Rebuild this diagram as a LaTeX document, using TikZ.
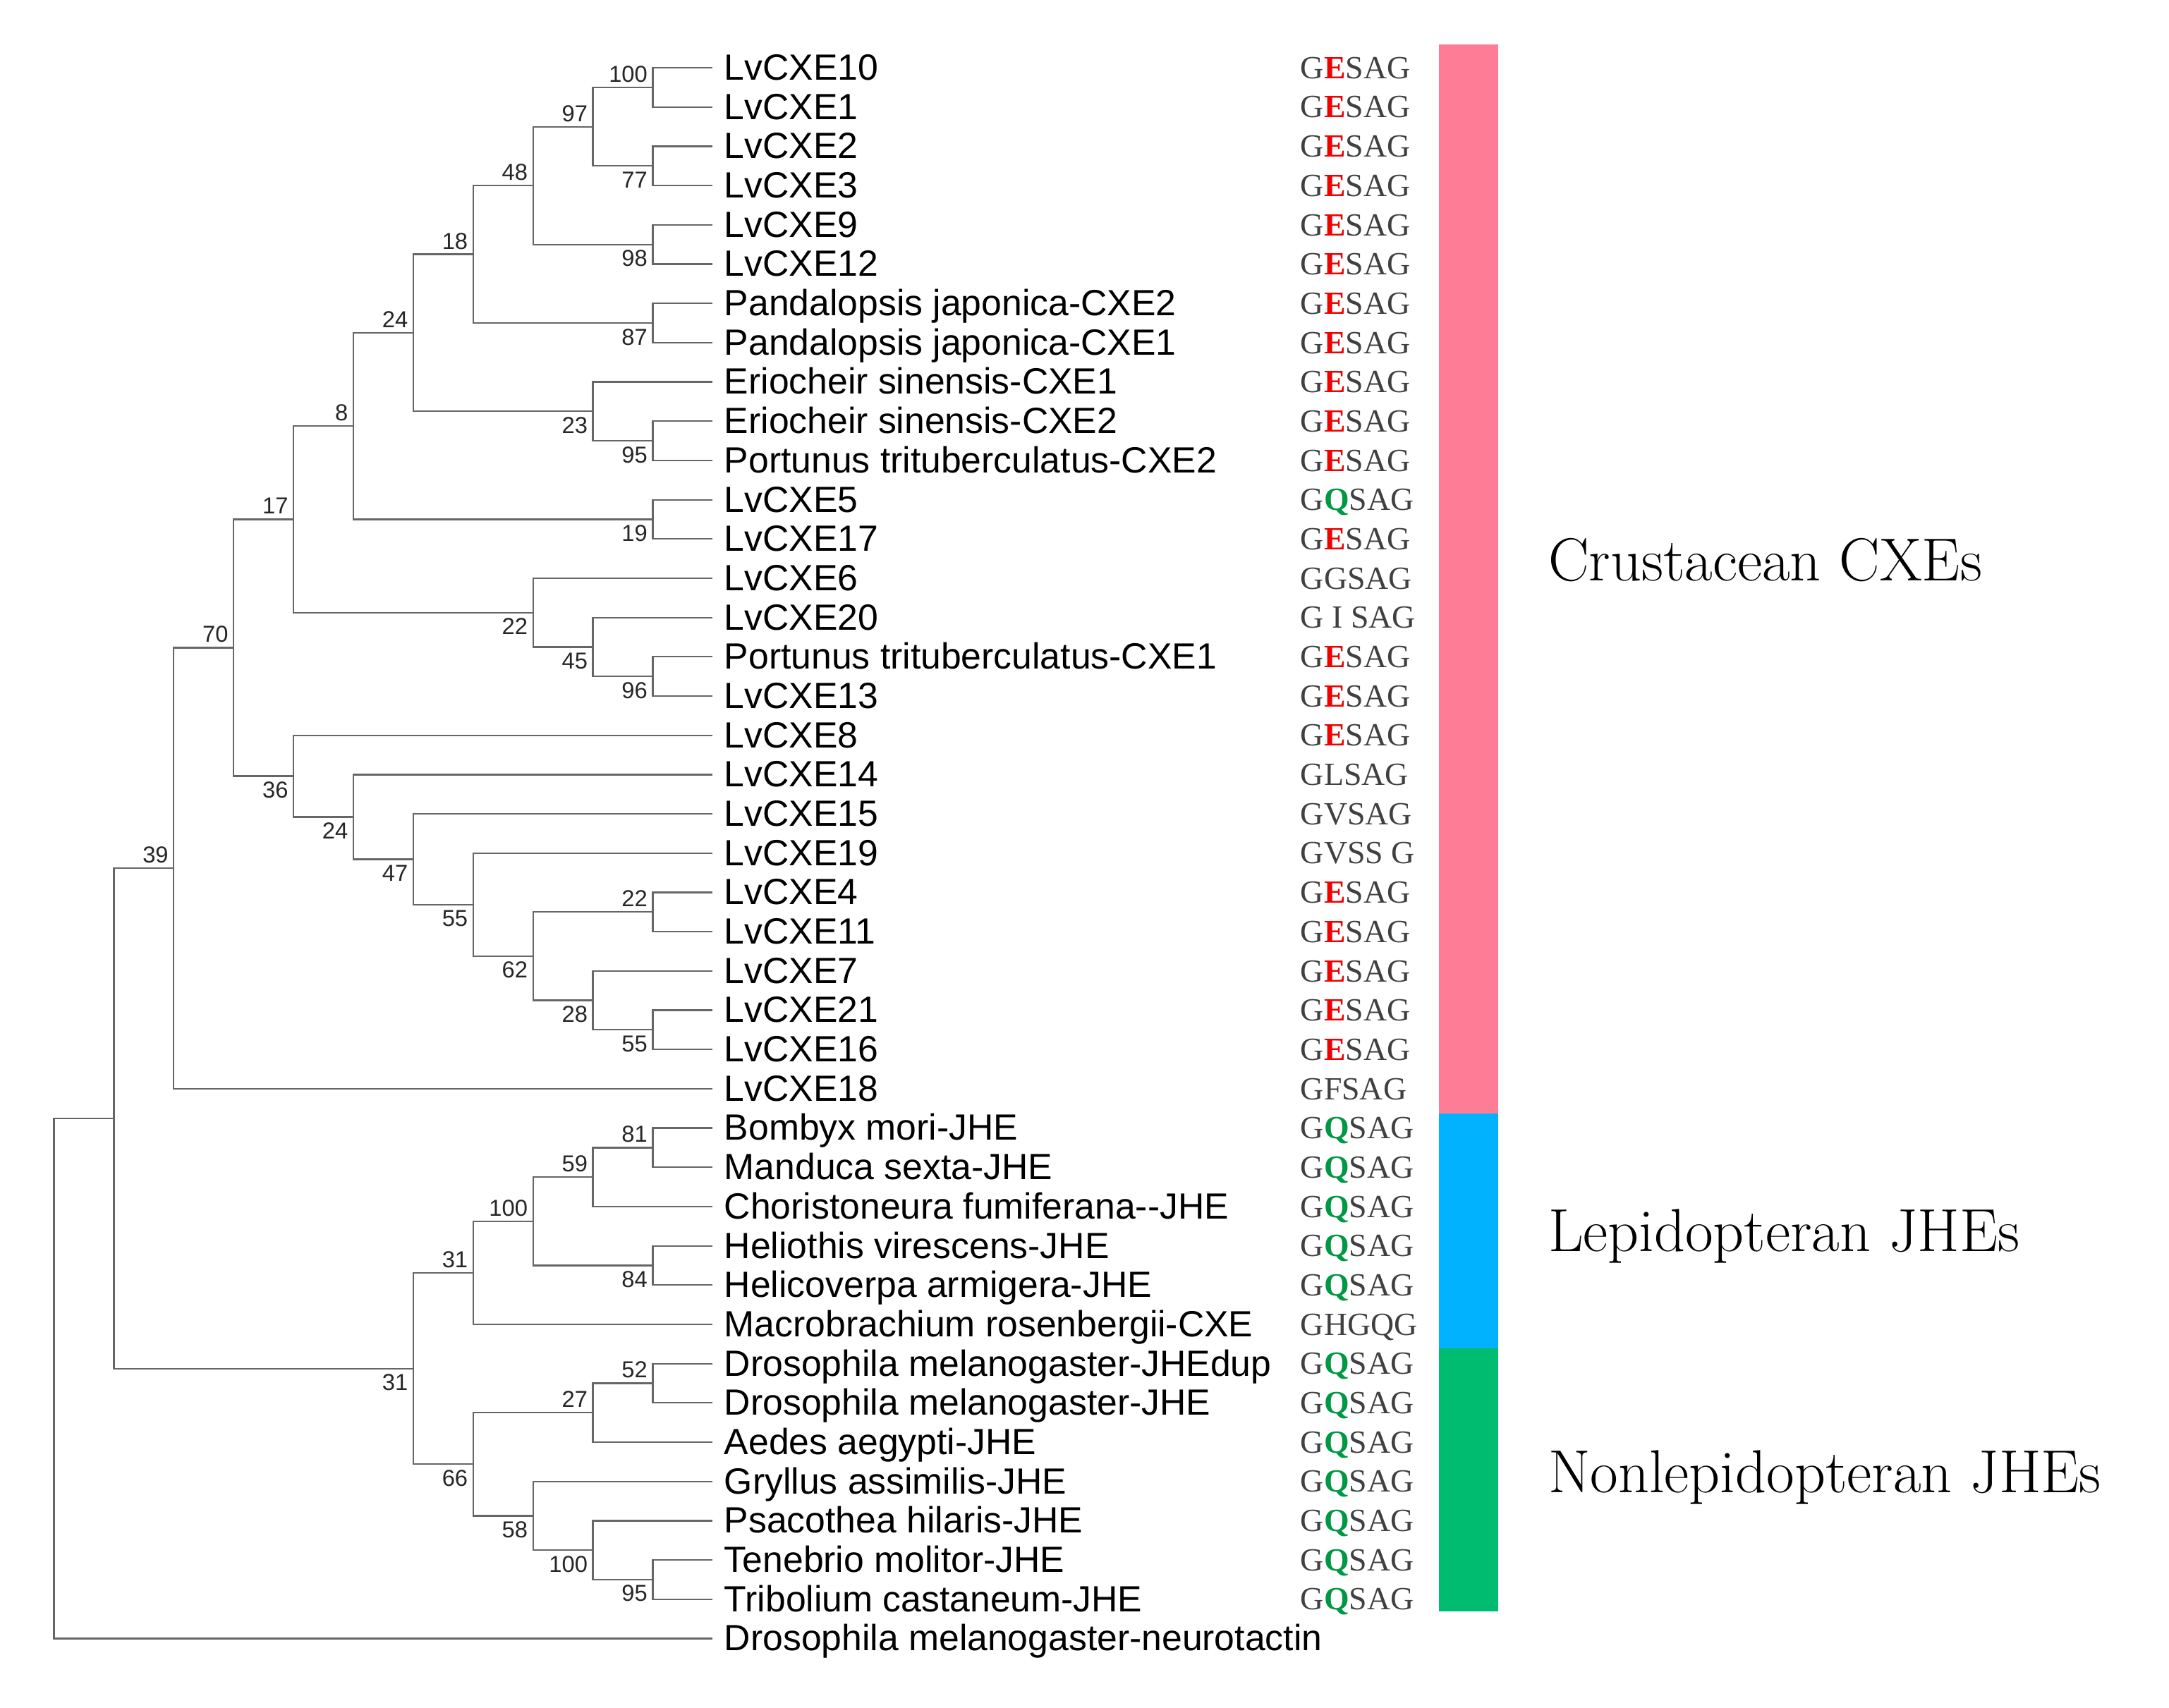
\documentclass[tikz,border=0pt]{standalone}
\usepackage{fontspec}
\newfontfamily\leafsans{Liberation Sans}
\newfontfamily\motifserif{Liberation Serif}

\definecolor{crustpink}{RGB}{255,124,150}
\definecolor{lepblue}{RGB}{0,178,255}
\definecolor{nonlepgreen}{RGB}{0,188,112}
\definecolor{motred}{RGB}{240,0,0}
\definecolor{motgreen}{RGB}{0,152,68}

\newcommand{\motE}{\textcolor{motred}{\textbf{E}}}
\newcommand{\motQ}{\textcolor{motgreen}{\textbf{Q}}}

\tikzset{
  twig/.style={draw=black!60, line width=0.65pt},
  boot/.style={font=\leafsans\fontsize{9.5}{10}\selectfont, text=black!85,
    inner sep=2pt, text height=6.8pt, text depth=0pt},
  leaf/.style={font=\leafsans\fontsize{15}{17}\selectfont, anchor=west,
    inner xsep=4.6pt, inner ysep=0pt, text height=10.7pt, text depth=0.6pt},
  motif/.style={font=\motifserif\fontsize{13.3}{15}\selectfont, text=black!75,
    anchor=west, inner sep=0pt, text height=8.8pt, text depth=0pt},
  group/.style={font=\fontsize{25}{28}\selectfont, anchor=base west, inner sep=0pt}
}

\begin{document}
\begin{tikzpicture}[x=0.02cm, y=-0.02cm]
  \useasboundingbox (0,0) rectangle (1568,1235);

  % the tree: one level = one step in x, one leaf = one step in y
  \begin{scope}[shift={(39,49)}, x=0.866cm, y=-0.568cm]
  \foreach \lab [count=\i from 0] in {LvCXE10, LvCXE1, LvCXE2, LvCXE3, LvCXE9, LvCXE12,
      Pandalopsis japonica-CXE2, Pandalopsis japonica-CXE1, Eriocheir sinensis-CXE1,
      Eriocheir sinensis-CXE2, Portunus trituberculatus-CXE2, LvCXE5, LvCXE17, LvCXE6,
      LvCXE20, Portunus trituberculatus-CXE1, LvCXE13, LvCXE8, LvCXE14, LvCXE15, LvCXE19,
      LvCXE4, LvCXE11, LvCXE7, LvCXE21, LvCXE16, LvCXE18, Bombyx mori-JHE,
      Manduca sexta-JHE, Choristoneura fumiferana-{}-JHE, Heliothis virescens-JHE,
      Helicoverpa armigera-JHE, Macrobrachium rosenbergii-CXE,
      Drosophila melanogaster-JHEdup, Drosophila melanogaster-JHE, Aedes aegypti-JHE,
      Gryllus assimilis-JHE, Psacothea hilaris-JHE, Tenebrio molitor-JHE,
      Tribolium castaneum-JHE, Drosophila melanogaster-neurotactin}{
    \coordinate (t\i) at (11,\i);
    \node[leaf] (l\i) at (t\i) {\lab};
  }

  % inner nodes with their bootstrap values
  \foreach \n/\x/\y/\bs/\pos in {
      n100a/10/0.5/100/south east, n77/10/2.5/77/north east, n97/9/1.5/97/south east,
      n98/10/4.5/98/north east, n48/8/3/48/south east, n87/10/6.5/87/north east,
      n18/7/4.75/18/south east, n95a/10/9.5/95/north east, n23/9/8.75/23/north east,
      n24a/6/6.75/24/south east, n19/10/11.5/19/north east, n8/5/9.125/8/south east,
      n96/10/15.5/96/north east, n45/9/14.75/45/north east, n22a/8/13.875/22/north east,
      n17/4/11.5/17/south east, n22b/10/21.5/22/south east, n55b/10/24.5/55/north east,
      n28/9/23.75/28/north east, n62/8/22.625/62/north east, n55a/7/21.3125/55/north east,
      n47/6/20.156/47/north east, n24b/5/19.078/24/north east, n36/4/18.039/36/north east,
      n70/3/14.77/70/south east, n39/2/20.385/39/south east,
      n81/10/27.5/81/south east, n59/9/28.25/59/south east, n84/10/30.5/84/north east,
      n100b/8/29.375/100/south east, n31a/7/30.6875/31/south east,
      n52/10/33.5/52/south east, n27/9/34.25/27/south east, n95b/10/38.5/95/north east,
      n100c/9/37.75/100/north east, n58/8/36.875/58/north east,
      n66/7/35.5625/66/north east, n31b/6/33.125/31/north east}{
    \coordinate (\n) at (\x,\y);
    \node[boot, anchor=\pos] (b\n) at (\n) {\bs};
  }
  \coordinate (n1) at (1,26.755);
  \coordinate (root) at (0,33.877);

  % branches, parent |- child
  \foreach \p/\c in {n100a/t0, n100a/t1, n77/t2, n77/t3, n97/n100a, n97/n77,
      n98/t4, n98/t5, n48/n97, n48/n98, n87/t6, n87/t7, n18/n48, n18/n87,
      n95a/t9, n95a/t10, n23/t8, n23/n95a, n24a/n18, n24a/n23, n19/t11, n19/t12,
      n8/n24a, n8/n19, n96/t15, n96/t16, n45/t14, n45/n96, n22a/t13, n22a/n45,
      n17/n8, n17/n22a, n22b/t21, n22b/t22, n55b/t24, n55b/t25, n28/t23, n28/n55b,
      n62/n22b, n62/n28, n55a/t20, n55a/n62, n47/t19, n47/n55a, n24b/t18, n24b/n47,
      n36/t17, n36/n24b, n70/n17, n70/n36, n39/n70, n39/t26,
      n81/t27, n81/t28, n59/n81, n59/t29, n84/t30, n84/t31, n100b/n59, n100b/n84,
      n31a/n100b, n31a/t32, n52/t33, n52/t34, n27/n52, n27/t35, n95b/t38, n95b/t39,
      n100c/t37, n100c/n95b, n58/t36, n58/n100c, n66/n27, n66/n58,
      n31b/n31a, n31b/n66, n1/n39, n1/n31b, root/n1, root/t40}{
    \draw[twig] (\p) |- (\c);
  }

  % motif column
  \foreach \m [count=\i from 0] in {G\motE SAG, G\motE SAG, G\motE SAG, G\motE SAG,
      G\motE SAG, G\motE SAG, G\motE SAG, G\motE SAG, G\motE SAG, G\motE SAG,
      G\motE SAG, G\motQ SAG, G\motE SAG, GGSAG, G I SAG, G\motE SAG, G\motE SAG,
      G\motE SAG, GLSAG, GVSAG, GVSS G, G\motE SAG, G\motE SAG, G\motE SAG,
      G\motE SAG, G\motE SAG, GFSAG, G\motQ SAG, G\motQ SAG, G\motQ SAG, G\motQ SAG,
      G\motQ SAG, GHGQG, G\motQ SAG, G\motQ SAG, G\motQ SAG, G\motQ SAG, G\motQ SAG,
      G\motQ SAG, G\motQ SAG}{
    \node[motif] (m\i) at (20.81,\i) {\m};
  }
  \end{scope}

  % coloured bar and group names
  \fill[crustpink] (1040,32) rectangle (1083,805);
  \fill[lepblue] (1040,805) rectangle (1083,975);
  \fill[nonlepgreen] (1040,975) rectangle (1083,1165);

  \node[group] (gcrust) at (1119,419.7) {Crustacean CXEs};
  \node[group] (glep) at (1119,905) {Lepidopteran JHEs};
  \node[group] (gnonlep) at (1119,1079) {Nonlepidopteran JHEs};
\end{tikzpicture}
\end{document}
